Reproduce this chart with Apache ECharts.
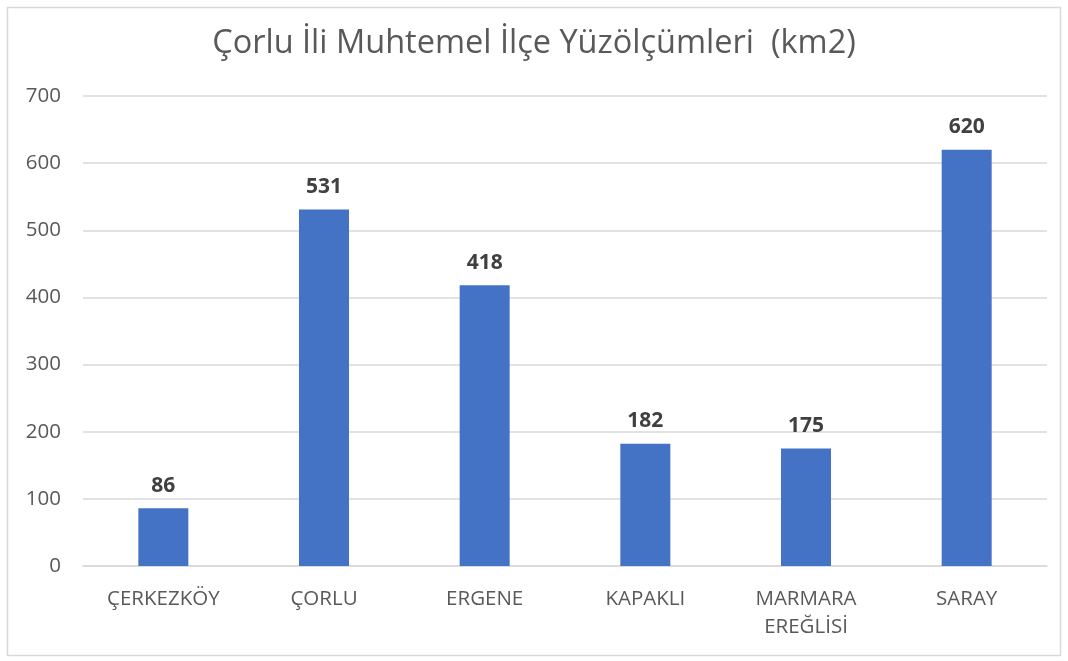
<!DOCTYPE html>
<html><head><meta charset="utf-8">
<script src="https://cdn.jsdelivr.net/npm/echarts@6/dist/echarts.min.js"></script>
<style>html,body{margin:0;padding:0;background:#fff}#c{width:1068px;height:661px}</style>
</head><body><div id="c"></div>
<script>
const categories = ['ÇERKEZKÖY', 'ÇORLU', 'ERGENE', 'KAPAKLI', 'MARMARA\nEREĞLİSİ', 'SARAY'];
const values = [86, 531, 418, 182, 175, 620];
const titleText = 'Çorlu İli Muhtemel İlçe Yüzölçümleri  (km2)';

const chart = echarts.init(document.getElementById('c'));
chart.setOption({
  animation: false,
  backgroundColor: '#fff',
  graphic: [{type: 'rect', shape: {x: 7.5, y: 7.5, width: 1053, height: 648}, style: {fill: 'none', stroke: '#d9d9d9', lineWidth: 1.5}, silent: true}],
  title: {text: titleText, left: 'center', top: 22, textStyle: {fontFamily: 'Open Sans', fontSize: 32.5, fontWeight: 'normal', color: '#595959'}},
  grid: {left: 83, right: 21, top: 96, bottom: 95},
  xAxis: {type: 'category', data: categories,
    axisLine: {lineStyle: {color: '#d9d9d9', width: 1.5}}, axisTick: {show: false},
    axisLabel: {fontFamily: 'Open Sans', fontSize: 20.5, color: '#595959', margin: 19, lineHeight: 28}},
  yAxis: {type: 'value', min: 0, max: 700, interval: 100,
    axisLine: {show: false}, axisTick: {show: false},
    splitLine: {lineStyle: {color: '#d9d9d9', width: 1.5}},
    axisLabel: {fontFamily: 'Open Sans', fontSize: 20.5, color: '#595959', margin: 22}},
  series: [{type: 'bar', data: values, barWidth: 50, itemStyle: {color: '#4472c4'},
    label: {show: true, position: 'top', distance: 12, fontFamily: 'Open Sans', fontSize: 21, fontWeight: 'bold', color: '#404040'}}]
});
</script></body></html>
